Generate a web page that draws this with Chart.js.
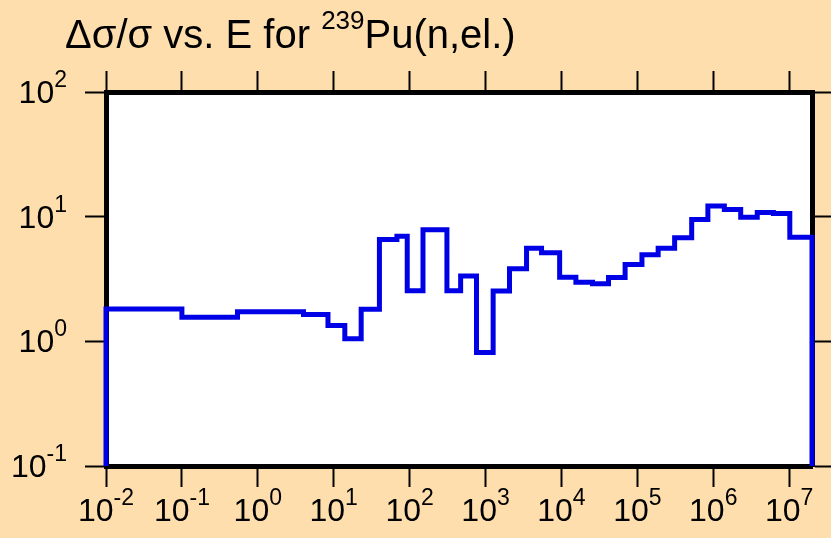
<!DOCTYPE html>
<html lang="en">
<head>
<meta charset="UTF-8">
<title>Pu-239 elastic uncertainty</title>
<script src="https://cdn.jsdelivr.net/npm/chart.js@4/dist/chart.umd.min.js"></script>
<style>
  html, body { margin: 0; padding: 0; background: #ffdead; }
  #wrap { width: 831px; height: 538px; }
</style>
</head>
<body>
<div id="wrap"><canvas id="myChart" width="831" height="538"></canvas></div>
<script>
  // energy bin edges (eV) and the relative uncertainty (%) in each bin
  const binEdges = [0.01, 0.1, 0.54, 4, 8.4, 14, 23, 40, 68, 93, 150, 310, 470, 760, 1260,
    2070, 3470, 5470, 9470, 15500, 25700, 41700, 69000, 115000, 188000, 310000, 520000,
    850000, 1.4e6, 2.3e6, 3.8e6, 6.2e6, 1.02e7, 2e7];
  const binValues = [1.82, 1.56, 1.73, 1.64, 1.34, 1.05, 1.81, 6.56, 6.95, 2.55, 7.85, 2.55,
    3.35, 0.815, 2.53, 3.82, 5.58, 5.13, 3.27, 2.98, 2.89, 3.25, 4.13, 4.94, 5.58, 6.78,
    9.5, 12.2, 11.4, 9.9, 10.8, 10.6, 6.85];
  const xTickValues = [1e-2, 1e-1, 1e0, 1e1, 1e2, 1e3, 1e4, 1e5, 1e6, 1e7];
  const yTickValues = [1e-1, 1e0, 1e1, 1e2];
  const xMin = 1e-2, xMax = 2e7, yMin = 0.1, yMax = 100;
  const titleMain = 'Δσ/σ vs. E for ';
  const titleSup = '239';
  const titleTail = 'Pu(n,el.)';

  // histogram outline: up from the floor, across every bin, back down
  const points = [{x: binEdges[0], y: yMin}];
  binValues.forEach((v, i) => points.push({x: binEdges[i], y: v}));
  points.push({x: binEdges[binEdges.length - 1], y: binValues[binValues.length - 1]});
  points.push({x: binEdges[binEdges.length - 1], y: yMin});

  const FONT = 'Arial, "Liberation Sans", sans-serif';

  function logAxis(position, min, max, tl, tickValues) {
    return {
      type: 'logarithmic',
      position: position,
      min: min,
      max: max,
      grid: { drawOnChartArea: false, drawTicks: true, tickLength: tl, tickWidth: 2, tickColor: '#000' },
      border: { display: true, color: '#000', width: 5 },
      ticks: { display: false },
      afterBuildTicks: (axis) => { axis.ticks = tickValues.map(v => ({value: v})); }
    };
  }

  function powerLabel(ctx, exp, x, y, align) {
    ctx.font = '32px ' + FONT;
    const w1 = ctx.measureText('10').width;
    ctx.font = '23px ' + FONT;
    const w2 = ctx.measureText(exp).width;
    let x0 = align === 'center' ? x - (w1 + w2) / 2 : x - (w1 + w2);
    ctx.font = '32px ' + FONT;
    ctx.fillText('10', x0, y);
    ctx.font = '23px ' + FONT;
    ctx.fillText(exp, x0 + w1, y - 16);
  }

  const decorations = {
    id: 'decorations',
    beforeDraw(chart) {
      const {ctx, chartArea: a} = chart;
      ctx.save();
      ctx.fillStyle = '#ffffff';
      ctx.fillRect(a.left, a.top, a.right - a.left, a.bottom - a.top);
      ctx.restore();
    },
    afterDraw(chart) {
      const ctx = chart.ctx;
      ctx.save();
      ctx.fillStyle = '#000';
      ctx.textAlign = 'left';
      ctx.textBaseline = 'alphabetic';

      // title with superscript mass number
      let tx = 65;
      ctx.font = '40px ' + FONT;
      ctx.fillText(titleMain, tx, 48);
      tx += ctx.measureText(titleMain).width;
      ctx.font = '26px ' + FONT;
      ctx.fillText(titleSup, tx, 29);
      tx += ctx.measureText(titleSup).width;
      ctx.font = '40px ' + FONT;
      ctx.fillText(titleTail, tx, 48);

      const xs = chart.scales.x;
      xTickValues.forEach(v => {
        const exp = String(Math.round(Math.log10(v)));
        powerLabel(ctx, exp, xs.getPixelForValue(v), 521, 'center');
      });
      const ys = chart.scales.y;
      yTickValues.forEach(v => {
        const exp = String(Math.round(Math.log10(v)));
        powerLabel(ctx, exp, 67, ys.getPixelForValue(v) + 11, 'right');
      });
      ctx.restore();
    }
  };

  const ctx = document.getElementById('myChart');
  new Chart(ctx, {
    type: 'line',
    data: {
      datasets: [{
        label: 'Δσ/σ',
        data: points,
        stepped: true,
        borderColor: '#0000e6',
        borderWidth: 5,
        pointRadius: 0,
        fill: false,
        clip: false
      }]
    },
    options: {
      responsive: false,
      animation: false,
      layout: { padding: { left: 85, top: 71, right: 0, bottom: 51 } },
      scales: {
        x: logAxis('bottom', xMin, xMax, 21, xTickValues),
        x2: logAxis('top', xMin, xMax, 21, xTickValues),
        y: logAxis('left', yMin, yMax, 21, yTickValues),
        y2: logAxis('right', yMin, yMax, 19, yTickValues)
      },
      plugins: {
        legend: { display: false },
        tooltip: { enabled: false }
      }
    },
    plugins: [decorations]
  });
</script>
</body>
</html>
